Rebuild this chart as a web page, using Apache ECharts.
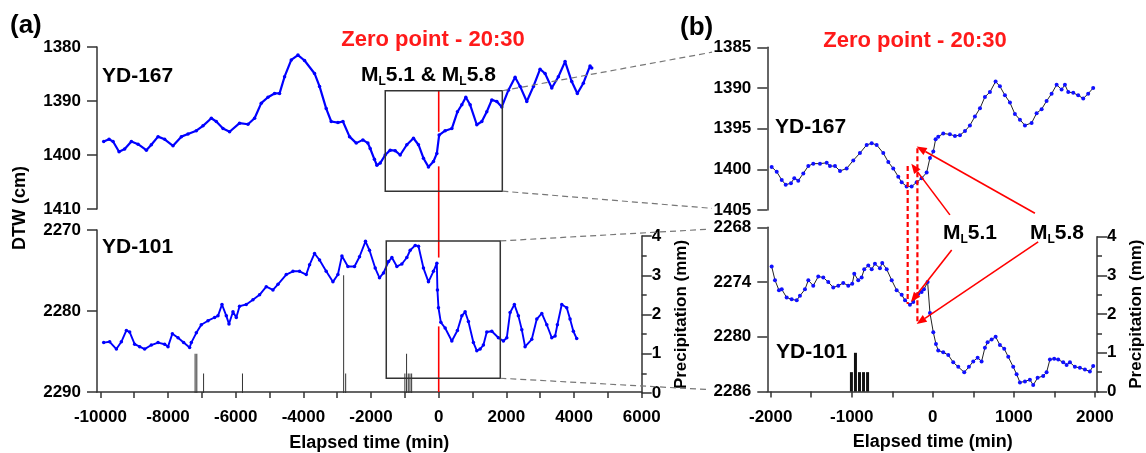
<!DOCTYPE html>
<html>
<head>
<meta charset="utf-8">
<script src="https://cdn.jsdelivr.net/npm/echarts@6/dist/echarts.min.js"></script>
<style>
  html, body { margin: 0; padding: 0; background: #fff; }
  #chart { width: 1146px; height: 453px; }
</style>
</head>
<body>
<div id="chart"></div>
<script>
// ---- data ----
// (a) YD-167, elapsed time (min) / depth to water (cm)
const a167Time = [-9902, -9743, -9625, -9448, -9282, -9084, -8886, -8641, -8494, -8296, -8100, -7853, -7607, -7410, -7164, -6967, -6721, -6574, -6376, -6181, -5886, -5637, -5442, -5245, -5047, -4852, -4704, -4556, -4358, -4160, -3966, -3670, -3522, -3325, -3177, -2979, -2831, -2636, -2438, -2241, -2093, -2025, -1900, -1827, -1729, -1581, -1434, -1286, -1139, -942, -746, -598, -451, -303, -155, -55, 13, 190, 388, 553, 683, 801, 929, 1126, 1274, 1421, 1569, 1717, 1865, 2060, 2258, 2406, 2603, 2800, 2996, 3144, 3342, 3537, 3735, 3932, 4098, 4275, 4473, 4523];
const a167Dtw = [1397.5, 1397.1, 1397.5, 1399.4, 1398.9, 1397.5, 1398.0, 1399.1, 1398.1, 1396.6, 1397.1, 1398.3, 1396.6, 1396.1, 1395.5, 1394.6, 1393.2, 1393.8, 1395.1, 1395.7, 1394.1, 1394.3, 1393.2, 1390.4, 1389.3, 1388.6, 1388.6, 1385.5, 1382.4, 1381.5, 1382.5, 1384.9, 1387.3, 1391.4, 1393.8, 1394.0, 1393.8, 1396.6, 1397.8, 1397.2, 1397.8, 1398.8, 1400.8, 1401.9, 1401.5, 1400.0, 1399.1, 1399.2, 1400.0, 1398.1, 1396.9, 1398.1, 1400.6, 1402.2, 1401.2, 1399.7, 1396.3, 1395.5, 1395.1, 1392.0, 1390.7, 1389.3, 1390.7, 1394.4, 1393.8, 1392.0, 1389.8, 1390.1, 1391.1, 1388.0, 1385.6, 1387.3, 1390.1, 1387.3, 1384.1, 1384.9, 1387.6, 1385.5, 1382.7, 1386.4, 1388.6, 1386.7, 1383.5, 1383.9];

// (a) YD-101
const a101Time = [-9902, -9725, -9527, -9380, -9232, -9134, -8987, -8839, -8692, -8494, -8296, -8101, -8001, -7873, -7705, -7540, -7362, -7312, -7164, -7017, -6819, -6624, -6524, -6406, -6278, -6199, -6081, -5983, -5886, -5688, -5490, -5295, -5097, -4899, -4751, -4506, -4308, -4113, -3915, -3817, -3670, -3522, -3325, -3127, -2979, -2861, -2684, -2489, -2341, -2164, -2046, -1877, -1750, -1632, -1484, -1384, -1236, -1089, -942, -843, -695, -598, -451, -303, -155, -55, -38, -7, 63, 190, 388, 553, 683, 781, 878, 1026, 1126, 1224, 1321, 1421, 1569, 1765, 1912, 2013, 2110, 2237, 2355, 2456, 2553, 2751, 2899, 3047, 3195, 3342, 3440, 3508, 3637, 3785, 3882, 3980, 4079];
const a101Dtw = [2283.9, 2283.8, 2284.7, 2283.8, 2282.4, 2282.6, 2284.1, 2284.4, 2284.7, 2284.2, 2283.9, 2284.1, 2284.4, 2282.8, 2283.3, 2283.9, 2284.5, 2283.9, 2282.7, 2281.7, 2281.2, 2280.8, 2280.6, 2279.2, 2280.6, 2281.6, 2280.1, 2280.8, 2279.4, 2279.2, 2278.6, 2278.0, 2277.0, 2277.4, 2276.7, 2275.5, 2275.1, 2275.1, 2275.5, 2274.3, 2272.9, 2273.7, 2275.1, 2276.4, 2275.5, 2273.2, 2274.5, 2274.5, 2273.3, 2271.4, 2272.5, 2274.7, 2275.9, 2275.3, 2273.9, 2273.4, 2274.5, 2274.2, 2273.4, 2272.5, 2271.9, 2272.0, 2274.7, 2276.4, 2275.1, 2274.1, 2277.4, 2279.6, 2281.4, 2282.1, 2283.7, 2282.4, 2280.6, 2280.1, 2281.3, 2283.9, 2284.9, 2284.7, 2284.2, 2282.6, 2282.5, 2283.3, 2283.7, 2283.3, 2280.2, 2279.2, 2280.6, 2282.3, 2284.4, 2283.5, 2281.0, 2280.3, 2281.7, 2283.3, 2283.1, 2281.7, 2279.2, 2279.6, 2281.0, 2282.5, 2283.4];

// (b) YD-167, zoomed window
const b167Time = [-1988, -1926, -1864, -1815, -1750, -1709, -1660, -1598, -1536, -1475, -1392, -1309, -1269, -1207, -1145, -1063, -981, -899, -816, -754, -693, -611, -549, -488, -426, -384, -323, -261, -199, -138, -76, -35, 6, 35, 67, 129, 211, 273, 335, 397, 458, 520, 582, 643, 705, 775, 828, 890, 952, 1013, 1075, 1137, 1219, 1281, 1343, 1404, 1466, 1528, 1589, 1630, 1671, 1733, 1794, 1856, 1917, 1979];
const b167Dtw = [1399.7, 1400.3, 1401.3, 1401.9, 1401.7, 1401.1, 1401.4, 1400.5, 1399.6, 1399.3, 1399.3, 1399.2, 1399.6, 1399.6, 1400.2, 1399.9, 1398.9, 1398.0, 1397.0, 1396.8, 1397.0, 1398.0, 1399.1, 1399.9, 1400.9, 1401.6, 1402.1, 1402.1, 1401.6, 1401.1, 1400.4, 1398.6, 1397.8, 1396.3, 1396.0, 1395.6, 1395.7, 1395.9, 1395.8, 1395.3, 1394.6, 1393.5, 1392.5, 1391.1, 1390.5, 1389.2, 1389.8, 1390.9, 1391.8, 1393.2, 1393.9, 1394.6, 1394.3, 1393.1, 1392.6, 1391.6, 1390.7, 1389.6, 1390.2, 1389.6, 1390.5, 1390.6, 1390.9, 1391.3, 1390.7, 1390.0];

// (b) YD-101, zoomed window
const b101Time = [-1988, -1947, -1898, -1864, -1803, -1741, -1679, -1639, -1577, -1536, -1475, -1413, -1351, -1290, -1228, -1166, -1105, -1043, -994, -969, -920, -878, -846, -796, -754, -714, -652, -624, -569, -507, -446, -384, -343, -282, -241, -179, -138, -109, -64, -35, 6, 39, 67, 129, 191, 252, 314, 388, 446, 499, 553, 602, 643, 676, 726, 775, 828, 881, 931, 992, 1034, 1075, 1137, 1198, 1239, 1293, 1362, 1404, 1445, 1498, 1547, 1609, 1651, 1692, 1753, 1815, 1877, 1938, 1979];
const b101Dtw = [2272.3, 2273.8, 2274.9, 2274.8, 2275.7, 2275.9, 2276.0, 2275.5, 2274.8, 2273.8, 2274.4, 2273.4, 2273.5, 2274.0, 2274.6, 2274.4, 2274.1, 2274.4, 2274.2, 2273.1, 2273.8, 2273.5, 2272.6, 2272.2, 2272.6, 2272.0, 2272.5, 2271.9, 2272.6, 2273.8, 2274.9, 2275.4, 2276.0, 2276.5, 2276.2, 2275.3, 2275.1, 2274.8, 2274.0, 2277.4, 2279.5, 2280.8, 2281.5, 2281.7, 2282.0, 2282.8, 2283.3, 2283.9, 2283.3, 2282.7, 2282.3, 2282.7, 2281.2, 2280.6, 2280.3, 2280.0, 2280.9, 2281.3, 2282.2, 2283.3, 2284.1, 2285.0, 2284.9, 2284.7, 2285.3, 2284.5, 2284.3, 2283.9, 2282.5, 2282.4, 2282.5, 2282.8, 2283.1, 2282.8, 2283.3, 2283.4, 2283.6, 2283.8, 2283.2];

// precipitation (mm)
const rainTime = [-7200, -7150, -6950, -5800, -2810, -2750, -1000, -950, -900, -850, -800];
const rainMm = [1, 1, 0.5, 0.5, 3, 0.5, 0.5, 1, 0.5, 0.5, 0.5];

// tick labels
const aLabelTicks = [-10000, -8000, -6000, -4000, -2000, 0, 2000, 4000, 6000];
const aMinorTicks = [-10000, -9000, -8000, -7000, -6000, -5000, -4000, -3000, -2000, -1000, 0, 1000, 2000, 3000, 4000, 5000, 6000];
const bLabelTicks = [-2000, -1000, 0, 1000, 2000];
const bMinorTicks = [-2000, -1500, -1000, -500, 0, 500, 1000, 1500, 2000];

// annotation anchors (data space)
const zeroTime = 0;
const quakeTimes = [-310, -190];

const zip = (xs, ys) => xs.map((x, i) => [x, ys[i]]);

const FONT = '"Liberation Sans", Arial, sans-serif';
const AXIS = '#333';

const labelStyle = { color: '#000', fontWeight: 'bold', fontSize: 17, fontFamily: FONT, formatter: v => String(v) };

function xAxisHidden(grid, min, max) {
  return { type: 'value', gridIndex: grid, min: min, max: max, show: false };
}

function xAxisShown(grid, min, max, labels, ticks) {
  return {
    type: 'value', gridIndex: grid, min: min, max: max, position: 'bottom',
    name: 'Elapsed time (min)', nameLocation: 'middle', nameGap: 42,
    nameTextStyle: { color: '#000', fontWeight: 'bold', fontSize: 18, fontFamily: FONT },
    axisLine: { show: true, onZero: false, lineStyle: { color: AXIS, width: 1.5 } },
    axisTick: { show: true, customValues: ticks, length: 6, lineStyle: { color: AXIS, width: 1.5 } },
    axisLabel: Object.assign({ customValues: labels, margin: 17 }, labelStyle),
    splitLine: { show: false }
  };
}

function yDtw(grid, min, max, interval) {
  return {
    type: 'value', gridIndex: grid, inverse: true, min: min, max: max, interval: interval,
    axisLine: { show: true, onZero: false, lineStyle: { color: AXIS, width: 1.5 } },
    axisTick: { show: true, length: 10, lineStyle: { color: AXIS, width: 1.5 } },
    axisLabel: Object.assign({ margin: 16 }, labelStyle),
    splitLine: { show: false }
  };
}

function yRain(grid) {
  return {
    type: 'value', gridIndex: grid, position: 'right', min: 0, max: 4, interval: 1,
    name: 'Precipitation (mm)', nameLocation: 'middle', nameRotate: 90, nameGap: 31,
    nameTextStyle: { color: '#000', fontWeight: 'bold', fontSize: 17, fontFamily: FONT },
    axisLine: { show: true, onZero: false, lineStyle: { color: AXIS, width: 1.5 } },
    axisTick: { show: true, length: 10, lineStyle: { color: AXIS, width: 1.5 } },
    minorTick: { show: true, splitNumber: 2, length: 5, lineStyle: { color: AXIS, width: 1.5 } },
    axisLabel: Object.assign({ margin: 10 }, labelStyle),
    splitLine: { show: false }
  };
}

const option = {
  animation: false,
  backgroundColor: '#fff',
  grid: [
    { left: 97, right: 504.3, top: 47, height: 162 },
    { left: 97, right: 504.3, top: 230, height: 163 },
    { left: 97, right: 504.3, top: 236, height: 157 },
    { left: 767.3, right: 47.7, top: 47.3, height: 162.7 },
    { left: 767.3, right: 47.7, top: 227.3, height: 164.2 },
    { left: 767.3, right: 47.7, top: 236.7, height: 154.8 }
  ],
  xAxis: [
    xAxisHidden(0, -10100, 6000),
    xAxisShown(1, -10100, 6000, aLabelTicks, aMinorTicks),
    xAxisHidden(2, -10100, 6000),
    xAxisHidden(3, -2042, 2042),
    xAxisShown(4, -2042, 2042, bLabelTicks, bMinorTicks),
    xAxisHidden(5, -2042, 2042)
  ],
  yAxis: [
    yDtw(0, 1380, 1410, 10),
    yDtw(1, 2270, 2290, 10),
    yRain(2),
    yDtw(3, 1385, 1405, 5),
    yDtw(4, 2268, 2286, 6),
    yRain(5)
  ],
  series: [
    {
      type: 'line', xAxisIndex: 0, yAxisIndex: 0, data: zip(a167Time, a167Dtw),
      symbol: 'circle', symbolSize: 3.5, showAllSymbol: true,
      lineStyle: { color: '#0000ff', width: 2.2 }, itemStyle: { color: '#0000ff' }
    },
    {
      type: 'line', xAxisIndex: 1, yAxisIndex: 1, data: zip(a101Time, a101Dtw),
      symbol: 'circle', symbolSize: 3.5, showAllSymbol: true,
      lineStyle: { color: '#0000ff', width: 1.9 }, itemStyle: { color: '#0000ff' }
    },
    {
      type: 'bar', xAxisIndex: 2, yAxisIndex: 2, data: zip(rainTime, rainMm),
      barWidth: 1, itemStyle: { color: '#333' }
    },
    {
      type: 'line', xAxisIndex: 3, yAxisIndex: 3, data: zip(b167Time, b167Dtw),
      symbol: 'circle', symbolSize: 4, showAllSymbol: true,
      lineStyle: { color: '#222', width: 1 }, itemStyle: { color: '#1010ff' }
    },
    {
      type: 'line', xAxisIndex: 4, yAxisIndex: 4, data: zip(b101Time, b101Dtw),
      symbol: 'circle', symbolSize: 4, showAllSymbol: true,
      lineStyle: { color: '#222', width: 1 }, itemStyle: { color: '#1010ff' }
    },
    {
      type: 'bar', xAxisIndex: 5, yAxisIndex: 5, data: zip(rainTime, rainMm),
      barWidth: 3, clip: true, itemStyle: { color: '#111' }
    }
  ]
};

const chart = echarts.init(document.getElementById('chart'));
chart.setOption(option);

// ---- overlay drawn from data coordinates ----
const toPx = (grid, p) => chart.convertToPixel({ gridIndex: grid }, p);

function seg(p1, p2, style, z) {
  return {
    type: 'line', z: z || 5, silent: true,
    shape: { x1: p1[0], y1: p1[1], x2: p2[0], y2: p2[1] },
    style: style
  };
}

function arrow(from, tip) {
  const dx = tip[0] - from[0], dy = tip[1] - from[1];
  const len = Math.sqrt(dx * dx + dy * dy);
  const ux = dx / len, uy = dy / len;
  const L = 10, W = 4;
  const bx = tip[0] - ux * L, by = tip[1] - uy * L;
  return [
    seg(from, [bx, by], { stroke: '#ff0000', lineWidth: 1.6 }, 20),
    {
      type: 'polygon', z: 20, silent: true,
      shape: { points: [tip, [bx - uy * W, by + ux * W], [bx + uy * W, by - ux * W]] },
      style: { fill: '#ff0000' }
    }
  ];
}

function rectFrom(grid, x0, x1, y0, y1) {
  const p0 = toPx(grid, [x0, y0]), p1 = toPx(grid, [x1, y1]);
  return {
    type: 'rect', z: 4, silent: true,
    shape: { x: Math.min(p0[0], p1[0]), y: Math.min(p0[1], p1[1]), width: Math.abs(p1[0] - p0[0]), height: Math.abs(p1[1] - p0[1]) },
    style: { fill: 'none', stroke: '#333', lineWidth: 1.5 }
  };
}

function txt(x, y, text, size, color, align) {
  return {
    type: 'text', x: x, y: y, z: 30, silent: true,
    style: { text: text, fill: color || '#000', font: 'bold ' + size + 'px ' + FONT, align: align || 'left', verticalAlign: 'middle' }
  };
}

// "M_L5.1" style label: main text with a lowered small L
const measureCtx = document.createElement('canvas').getContext('2d');
function mlLabel(x, y, parts) {
  const out = [];
  let cx = x;
  parts.forEach((p, i) => {
    const sub = i % 2 === 1;
    const font = 'bold ' + (sub ? 12 : 21) + 'px ' + FONT;
    out.push({
      type: 'text', x: cx, y: sub ? y + 7 : y, z: 30, silent: true,
      style: { text: p, fill: '#000', font: font, align: 'left', verticalAlign: 'middle' }
    });
    measureCtx.font = font;
    cx += measureCtx.measureText(p).width;
  });
  return out;
}

const dashGray = { stroke: '#777', lineWidth: 1.2, lineDash: [6, 4] };
const red = { stroke: '#ff0000', lineWidth: 1.6 };
const redDash = { stroke: '#ff0000', lineWidth: 2.2, lineDash: [5, 3] };

const elements = [];

// zoom boxes in (a)
elements.push(rectFrom(0, -1580, 1880, 1388.1, 1406.7));
elements.push(rectFrom(1, -1550, 1820, 2271.35, 2288.3));

// connectors from the boxes to panel (b)
elements.push(seg(toPx(0, [1880, 1388.1]), toPx(3, [-2724, 1385.6]), dashGray));
elements.push(seg(toPx(0, [1880, 1406.7]), toPx(3, [-2724, 1404.8]), dashGray));
elements.push(seg(toPx(1, [1820, 2271.35]), toPx(4, [-2749, 2268.2]), dashGray));
elements.push(seg(toPx(1, [1820, 2288.3]), toPx(4, [-2749, 2285.8]), dashGray));

// zero line in (a)
elements.push(seg(toPx(0, [zeroTime, 1388.1]), toPx(0, [zeroTime, 1395.7]), red, 1));
elements.push(seg(toPx(0, [zeroTime, 1402.1]), toPx(1, [zeroTime, 2273.4]), red, 1));
elements.push(seg(toPx(1, [zeroTime, 2281.9]), toPx(1, [zeroTime, 2290]), red, 1));

// quake markers in (b)
elements.push(seg(toPx(3, [quakeTimes[0], 1399.6]), toPx(4, [quakeTimes[0], 2276.4]), redDash, 15));
elements.push(seg(toPx(3, [quakeTimes[1], 1397.4]), toPx(4, [quakeTimes[1], 2278.6]), redDash, 15));
arrow(toPx(3, [211, 1405.6]), toPx(3, [-265, 1399.3])).forEach(e => elements.push(e));
arrow(toPx(3, [1260, 1405.4]), toPx(3, [-199, 1397.2])).forEach(e => elements.push(e));
arrow(toPx(4, [233, 2270.5]), toPx(4, [-270, 2276.2])).forEach(e => elements.push(e));
arrow(toPx(4, [1300, 2269.6]), toPx(4, [-199, 2278.6])).forEach(e => elements.push(e));

// texts
elements.push(txt(10, 26, '(a)', 26));
elements.push(txt(680, 28, '(b)', 26));
elements.push(txt(433, 40, 'Zero point - 20:30', 22, '#ff1a1a', 'center'));
elements.push(txt(915, 41, 'Zero point - 20:30', 22, '#ff1a1a', 'center'));
elements.push(txt(102, 76, 'YD-167', 21));
elements.push(txt(102, 247, 'YD-101', 21));
elements.push(txt(775, 127, 'YD-167', 21));
elements.push(txt(776, 352, 'YD-101', 21));
mlLabel(361, 75, ['M', 'L', '5.1 & M', 'L', '5.8']).forEach(e => elements.push(e));
mlLabel(943, 233, ['M', 'L', '5.1']).forEach(e => elements.push(e));
mlLabel(1030, 233, ['M', 'L', '5.8']).forEach(e => elements.push(e));
elements.push({
  type: 'text', x: 20, y: 208, rotation: Math.PI / 2, z: 30, silent: true,
  style: { text: 'DTW (cm)', fill: '#000', font: 'bold 18px ' + FONT, align: 'center', verticalAlign: 'middle' }
});

chart.setOption({ graphic: { elements: elements } });
</script>
</body>
</html>
